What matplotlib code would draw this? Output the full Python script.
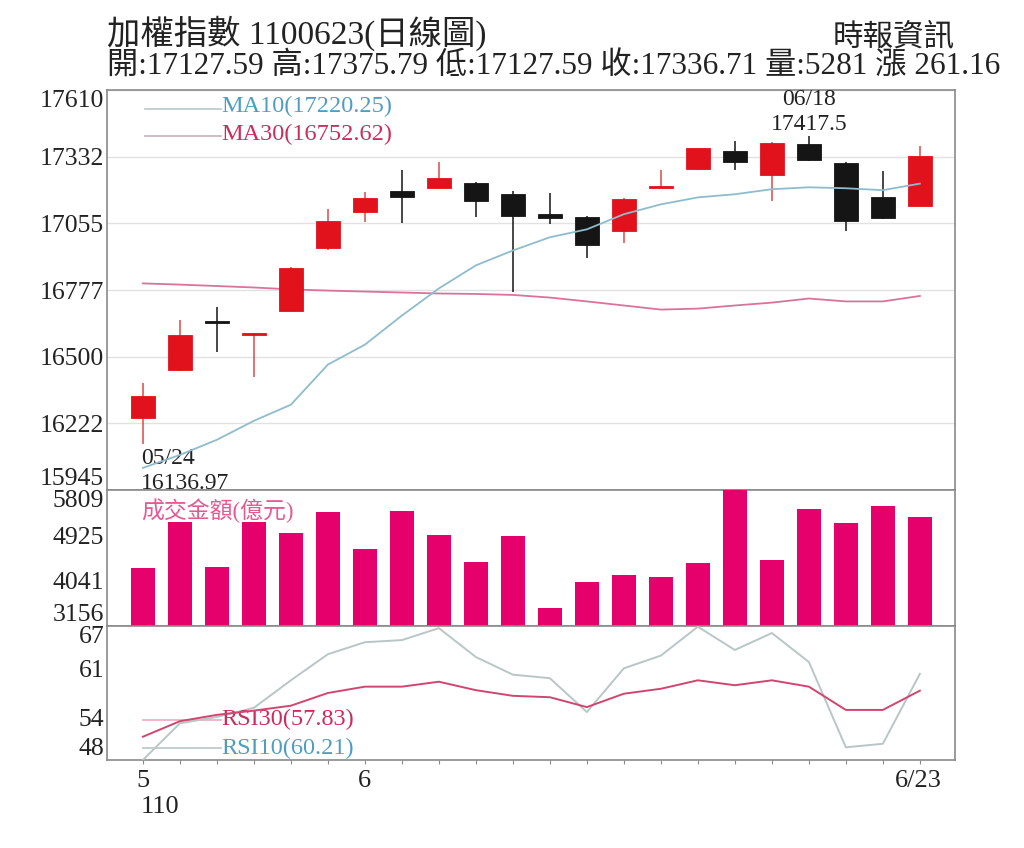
import matplotlib
matplotlib.use("Agg")
import matplotlib.pyplot as plt
import numpy as np

plt.rcParams['font.family'] = ['Liberation Serif', 'Noto Sans CJK TC']

# 5/24 .. 6/23 trading days
dates = ["05/24", "05/25", "05/26", "05/27", "05/28", "05/31",
         "06/01", "06/02", "06/03", "06/04", "06/07", "06/08", "06/09",
         "06/10", "06/11", "06/15", "06/16", "06/17", "06/18",
         "06/21", "06/22", "06/23"]
opens = [16245, 16446, 16650, 16590, 16692, 16951, 17101, 17189, 17201, 17222,
         17176, 17093, 17080, 17022, 17201, 17280, 17355, 17255, 17385, 17305,
         17163, 17127.59]
highs = [16392, 16654, 16705, 16598, 16875, 17113, 17184, 17276, 17310, 17225,
         17189, 17180, 17085, 17160, 17276, 17370, 17397, 17392, 17417.5, 17310,
         17272, 17375.79]
lows = [16136.97, 16440, 16521, 16417, 16690, 16945, 17059, 17055, 17201, 17080,
        16771, 17051, 16909, 16972, 17200, 17278, 17276, 17147, 17315, 17022,
        17072, 17127.59]
closes = [16337, 16592, 16642, 16596, 16867, 17063, 17159, 17163, 17243, 17147,
          17084, 17076, 16963, 17155, 17209, 17368, 17310, 17389, 17318, 17063,
          17075.55, 17336.71]
ma10 = [16037, 16091, 16154, 16233, 16300, 16467, 16550, 16671, 16784, 16880,
        16942, 16997, 17030, 17093, 17134, 17163, 17176, 17197, 17205, 17201,
        17193, 17220.25]
ma30 = [16805, 16800, 16794, 16788, 16780, 16775, 16771, 16767, 16763, 16761,
        16757, 16746, 16730, 16713, 16696, 16700, 16713, 16725, 16742, 16730,
        16730, 16752.62]
volume = [4287, 5184, 4307, 5184, 4970, 5379, 4658, 5399, 4931, 4404, 4911,
          3507, 4014, 4150, 4111, 4385, 5809, 4443, 5438, 5165, 5496, 5281]
rsi10 = [48.0, 53.2, 54.1, 55.4, 59.3, 63.0, 64.7, 65.0, 66.7, 62.6, 60.1,
         59.6, 54.8, 61.0, 62.8, 66.9, 63.6, 66.0, 61.9, 49.8, 50.3, 60.21]
rsi30 = [51.3, 53.5, 54.4, 55.0, 55.7, 57.5, 58.4, 58.4, 59.1, 57.9, 57.1,
         56.9, 55.5, 57.4, 58.1, 59.3, 58.6, 59.3, 58.4, 55.1, 55.1, 57.83]

price_ticks = [15945, 16222, 16500, 16777, 17055, 17332, 17610]
vol_ticks = [3156, 4041, 4925, 5809]
rsi_ticks = [48, 54, 61, 67]

RED = '#e2121d'
BLACK = '#151515'
MAGENTA = '#e5006c'
FRAME = '#8a8a8a'
TXT = '#222222'

x = np.arange(len(dates))
fig = plt.figure(figsize=(10.24, 8.48), dpi=100)
L, W = 107 / 1024, 848 / 1024
ax1 = fig.add_axes([L, 1 - 490 / 848, W, 400 / 848])
ax2 = fig.add_axes([L, 1 - 626 / 848, W, 136 / 848])
ax3 = fig.add_axes([L, 1 - 760 / 848, W, 134 / 848])

for ax in (ax1, ax2, ax3):
    ax.set_xlim(-0.97, 21.95)
    for s in ax.spines.values():
        s.set_color(FRAME)
        s.set_linewidth(1.2)
    ax.tick_params(axis='y', length=0, labelsize=18.5, pad=2, labelcolor=TXT)
    ax.tick_params(axis='x', length=0)
    ax.set_xticks([])

# ---- price panel
ax1.set_ylim(price_ticks[0], price_ticks[-1])
ax1.set_yticks(price_ticks)
ax1.set_yticklabels([str(t) for t in price_ticks])
ax1.grid(axis='y', color='#e2e2e2', lw=1)
ax1.set_axisbelow(True)
labs = ax1.get_yticklabels()
labs[0].set_va('bottom')
labs[-1].set_va('top')

for i in range(len(dates)):
    o, h, l, c = opens[i], highs[i], lows[i], closes[i]
    col = RED if c >= o else BLACK
    ax1.vlines(x[i], l, h, color=col if col == BLACK else '#d84a4a', lw=1.1, zorder=3)
    body = max(abs(c - o), 8)
    ax1.bar(x[i], body, bottom=min(o, c), width=0.66, color=col,
            edgecolor=col, lw=0.6, zorder=4)

ax1.plot(x, ma10, color='#8fbccc', lw=1.3, zorder=5)
ax1.plot(x, ma30, color='#d9739a', lw=1.3, zorder=2)

# legend-like labels
ax1.plot([0.05, 2.1], [17530, 17530], color='#b8c8cc', lw=1.2, clip_on=False)
ax1.plot([0.05, 2.1], [17420, 17420], color='#c8b0b8', lw=1.2, clip_on=False)
ax1.text(2.12, 17540, "MA10(17220.25)", color='#4f9dc2', fontsize=17.5, va='center')
ax1.text(2.12, 17425, "MA30(16752.62)", color='#cc2c5c', fontsize=17.5, va='center')

# high / low markers
ax1.text(18.0, 17570, "06/18", fontsize=17, ha='center', va='center', color=TXT)
ax1.text(18.0, 17465, highs[18], fontsize=17, ha='center', va='center', color=TXT)
ax1.text(-0.05, 16075, "05/24", fontsize=17, ha='left', va='center', color=TXT)
ax1.text(-0.05, 15970, "%.2f" % lows[0], fontsize=17, ha='left', va='center',
         color=TXT, clip_on=False, zorder=10)

# ---- volume panel
ax2.set_ylim(vol_ticks[0], vol_ticks[-1])
ax2.set_yticks(vol_ticks)
ax2.set_yticklabels([str(t) for t in vol_ticks])
labs = ax2.get_yticklabels()
labs[0].set_va('bottom')
labs[-1].set_va('top')
ax2.bar(x, np.array(volume) - vol_ticks[0], bottom=vol_ticks[0], width=0.66,
        color=MAGENTA, zorder=3)
ax2.text(-0.05, 5410, "成交金額(億元)", color='#e45a92', fontsize=16.5,
         va='center', ha='left', zorder=5)

# ---- RSI panel
ax3.set_ylim(rsi_ticks[0], rsi_ticks[-1])
ax3.set_yticks(rsi_ticks)
ax3.set_yticklabels([str(t) for t in rsi_ticks])
labs = ax3.get_yticklabels()
labs[0].set_va('bottom')
labs[-1].set_va('top')
ax3.plot(x, rsi10, color='#b9c6c6', lw=1.4, zorder=3)
ax3.plot(x, rsi30, color='#d2456f', lw=1.4, zorder=4)
ax3.plot([0.0, 2.1], [53.7, 53.7], color='#f0a9bd', lw=1.2)
ax3.plot([0.0, 2.1], [49.7, 49.7], color='#b9c6c6', lw=1.2)
ax3.text(2.12, 53.7, "RSI30(57.83)", color='#cc2c5c', fontsize=17.5, va='center')
ax3.text(2.12, 49.7, "RSI10(60.21)", color='#4f9dc2', fontsize=17.5, va='center')

ax3.set_xticks(x)
ax3.set_xticklabels([""] * len(x))
ax3.tick_params(axis='x', length=3, color=FRAME, direction='out')
ax3.text(0, 45.0, "5", fontsize=19, ha='center', va='center', clip_on=False, color=TXT)
ax3.text(-0.05, 41.3, "110", fontsize=19, ha='left', va='center', clip_on=False, color=TXT)
ax3.text(6, 45.0, "6", fontsize=19, ha='center', va='center', clip_on=False, color=TXT)
ax3.text(20.95, 45.0, "6/23", fontsize=19, ha='center', va='center', clip_on=False, color=TXT)

# ---- header
fig.text(L, 1 - 33 / 848, "加權指數 1100623(日線圖)", fontsize=24, va='center', color=TXT)
fig.text(955 / 1024, 1 - 39 / 848, "時報資訊", fontsize=22, va='center', ha='right', color=TXT)
fig.text(L, 1 - 67 / 848,
         "開:17127.59 高:17375.79 低:17127.59 收:17336.71 量:5281 漲 261.16",
         fontsize=22.5, va='center', color=TXT)

fig.savefig("out.png", dpi=100)
